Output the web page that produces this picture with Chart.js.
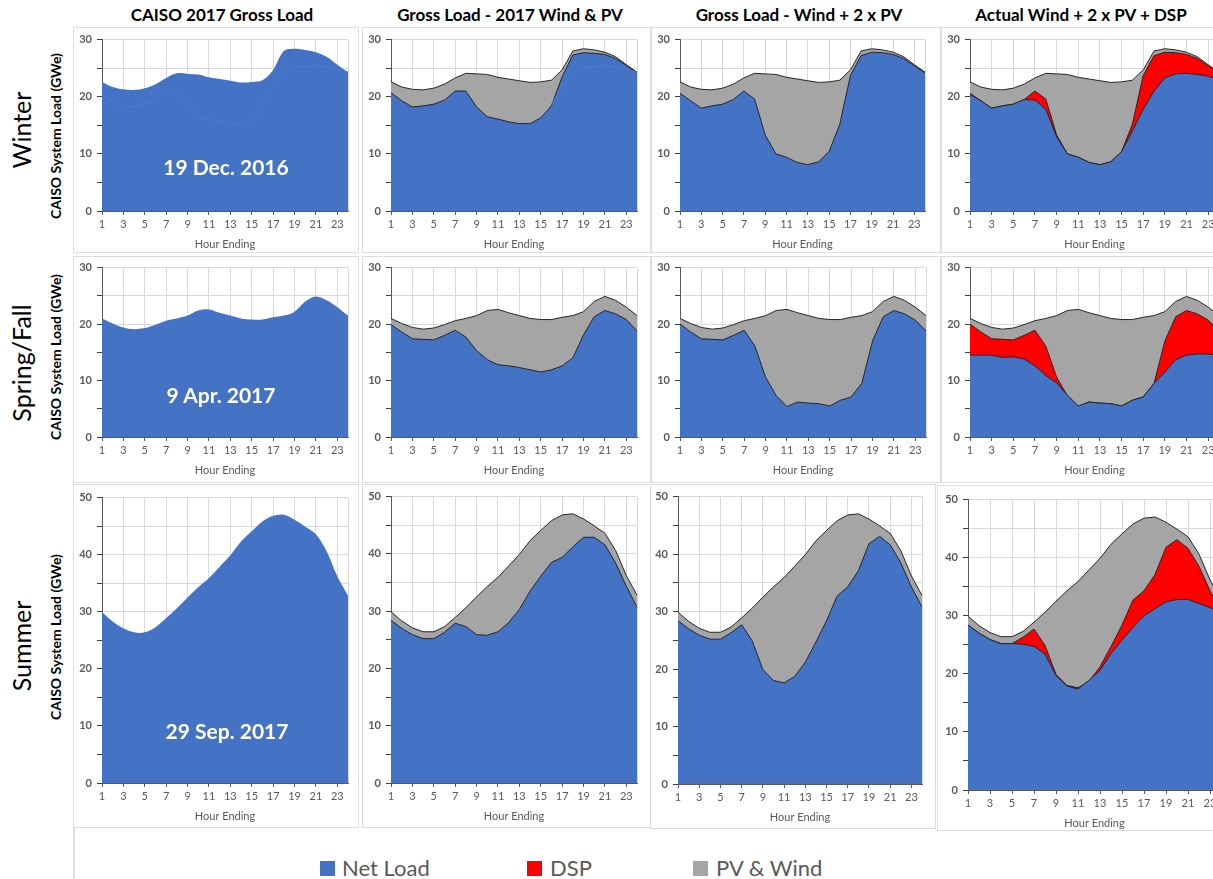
<!DOCTYPE html>
<html>
<head>
<meta charset="utf-8">
<title>CAISO load panels</title>
<script src="https://cdn.jsdelivr.net/npm/chart.js@4.4.1/dist/chart.umd.min.js"></script>
<style>
  body { margin: 0; width: 1213px; height: 879px; overflow: hidden; background: #fff; position: relative; font-family: Lato, "Open Sans", sans-serif; }
  .frame { position: absolute; border: 1px solid #dcdcdc; box-sizing: border-box; }
  canvas { position: absolute; }
  .coltitle { position: absolute; top: 4px; width: 300px; text-align: center; font-weight: bold; font-size: 17px; color: #000; transform: translateX(-50%); }
  .rot { position: absolute; transform: translate(-50%, -50%) rotate(-90deg); white-space: nowrap; color: #000; }
  .rowlabel { font-size: 25px; }
  .ytitle { font-size: 14px; font-weight: bold; }
  .date { position: absolute; transform: translate(-50%, -50%); white-space: nowrap; color: #fff; font-weight: bold; font-size: 21px; }
  .sw { position: absolute; width: 15px; height: 15px; top: 861px; }
  .lg { position: absolute; top: 854px; font-size: 22px; color: #595959; white-space: nowrap; }
</style>
</head>
<body>

<div class="frame" style="left:73px;top:27px;width:286px;height:226px"></div>
<div class="frame" style="left:362px;top:27px;width:289px;height:226px"></div>
<div class="frame" style="left:651px;top:27px;width:290px;height:226px"></div>
<div class="frame" style="left:941px;top:27px;width:280px;height:226px"></div>
<div class="frame" style="left:73px;top:256px;width:286px;height:227px"></div>
<div class="frame" style="left:362px;top:256px;width:289px;height:227px"></div>
<div class="frame" style="left:651px;top:256px;width:290px;height:227px"></div>
<div class="frame" style="left:941px;top:256px;width:280px;height:227px"></div>
<div class="frame" style="left:73px;top:484px;width:286px;height:344px"></div>
<div class="frame" style="left:362px;top:484px;width:289px;height:344px"></div>
<div class="frame" style="left:650px;top:484px;width:286px;height:345px"></div>
<div class="frame" style="left:937px;top:485px;width:284px;height:346px"></div>
<div class="frame" style="left:73px;top:827px;width:1px;height:60px"></div>

<div class="coltitle" style="left:222px">CAISO 2017 Gross Load</div>
<div class="coltitle" style="left:510px">Gross Load - 2017 Wind &amp; PV</div>
<div class="coltitle" style="left:799px">Gross Load - Wind + 2 x PV</div>
<div class="coltitle" style="left:1081px">Actual Wind + 2 x PV + DSP</div>

<div class="rot rowlabel" style="left:21px;top:130px">Winter</div>
<div class="rot rowlabel" style="left:21px;top:363px">Spring/Fall</div>
<div class="rot rowlabel" style="left:21px;top:646px">Summer</div>

<div class="rot ytitle" style="left:55px;top:136px">CAISO System Load (GWe)</div>
<div class="rot ytitle" style="left:55px;top:357px">CAISO System Load (GWe)</div>
<div class="rot ytitle" style="left:55px;top:637px">CAISO System Load (GWe)</div>

<div id="panels"></div>

<div class="date" style="left:226px;top:166px">19 Dec. 2016</div>
<div class="date" style="left:221px;top:394px">9 Apr. 2017</div>
<div class="date" style="left:227px;top:730px">29 Sep. 2017</div>

<div class="sw" style="left:320px;background:#4472C4"></div>
<div class="lg" style="left:342px">Net Load</div>
<div class="sw" style="left:527px;background:#FF0000"></div>
<div class="lg" style="left:550px">DSP</div>
<div class="sw" style="left:693px;background:#A5A5A5"></div>
<div class="lg" style="left:716px">PV &amp; Wind</div>

<script>
// hour ending labels
const hours = ['1','2','3','4','5','6','7','8','9','10','11','12','13','14','15','16','17','18','19','20','21','22','23','24'];

// Winter, 19 Dec. 2016 (GWe)
const winterGross   = [22.6, 21.7, 21.3, 21.2, 21.5, 22.2, 23.3, 24.1, 24.0, 23.9, 23.4, 23.1, 22.8, 22.5, 22.6, 22.9, 24.7, 28.0, 28.4, 28.2, 27.8, 27.0, 25.6, 24.3];
const winterGhost   = [20.3, 19.2, 18.2, 18.3, 18.8, 19.6, 20.9, 20.7, 19.0, 16.6, 16.0, 15.6, 15.3, 15.3, 16.2, 18.6, 21.8, 24.1, 25.1, 25.3, 25.4, 25.3, 24.9, 24.3];
const winterNet2017 = [20.7, 19.3, 18.2, 18.4, 18.7, 19.4, 21.0, 21.0, 18.2, 16.5, 16.1, 15.6, 15.3, 15.3, 16.3, 18.4, 23.5, 27.3, 27.7, 27.6, 27.4, 26.7, 25.5, 24.2];
const winterNet2xPV = [20.6, 19.3, 18.0, 18.4, 18.7, 19.5, 21.0, 19.6, 13.3, 10.0, 9.4, 8.5, 8.1, 8.6, 10.4, 15.2, 23.7, 27.2, 27.8, 27.7, 27.4, 26.7, 25.4, 24.2];
const winterNetDSP  = [20.4, 19.3, 18.0, 18.4, 18.7, 19.5, 19.4, 17.8, 13.0, 10.0, 9.4, 8.5, 8.1, 8.6, 10.4, 14.0, 17.8, 21.0, 23.3, 24.0, 24.1, 23.9, 23.6, 23.0];

// Spring/Fall, 9 Apr. 2017
const springGross   = [21.0, 20.1, 19.4, 19.1, 19.3, 19.9, 20.6, 21.0, 21.5, 22.4, 22.6, 22.0, 21.5, 21.0, 20.8, 20.8, 21.2, 21.5, 22.2, 24.0, 24.9, 24.2, 23.0, 21.5];
const springNet2017 = [19.9, 18.6, 17.4, 17.3, 17.2, 18.0, 18.9, 17.7, 15.3, 13.7, 12.8, 12.6, 12.3, 11.9, 11.5, 11.9, 12.6, 14.0, 18.1, 21.3, 22.4, 21.8, 20.8, 18.8];
const springNet2xPV = [20.0, 18.6, 17.4, 17.3, 17.2, 18.0, 18.9, 16.1, 10.6, 7.3, 5.4, 6.2, 6.0, 5.9, 5.5, 6.5, 7.1, 9.5, 17.0, 21.3, 22.4, 21.8, 20.7, 18.8];
const springNetDSP  = [14.5, 14.5, 14.5, 14.1, 14.2, 13.8, 12.6, 10.9, 9.6, 7.4, 5.5, 6.2, 6.0, 5.9, 5.5, 6.5, 7.1, 9.5, 11.5, 13.7, 14.5, 14.7, 14.7, 14.5];

// Summer, 29 Sep. 2017
const summerGross   = [29.9, 28.3, 27.1, 26.4, 26.4, 27.3, 28.9, 30.6, 32.5, 34.3, 35.9, 37.9, 39.9, 42.3, 44.1, 45.8, 46.8, 47.0, 46.1, 44.9, 43.6, 40.6, 36.2, 32.8];
const summerNet2017 = [28.4, 27.0, 25.9, 25.2, 25.2, 26.3, 27.9, 27.3, 25.9, 25.8, 26.4, 28.0, 30.3, 33.5, 36.1, 38.5, 39.4, 41.2, 42.9, 42.9, 41.6, 38.4, 34.4, 30.7];
const summerNet2xPV = [28.4, 27.0, 25.9, 25.2, 25.2, 26.3, 27.7, 24.9, 19.9, 18.0, 17.6, 18.7, 21.2, 24.7, 28.4, 32.7, 34.3, 37.1, 41.8, 43.1, 41.6, 38.5, 34.3, 30.8];
const summerNetDSP  = [28.4, 27.0, 25.9, 25.2, 25.2, 25.1, 24.7, 23.4, 19.7, 17.9, 17.4, 18.9, 20.6, 23.5, 25.8, 28.0, 30.0, 31.2, 32.4, 32.8, 32.8, 32.1, 31.4, 30.8];

const BLUE = '#4472C4', RED = '#FF0000', GRAY = '#A5A5A5', EDGE = '#262626';
const AX_W = 30, AX_H = 40, PAD_T = 10, PAD_R = 12;

function area(data, color, edge) {
    return {
        data: data,
        backgroundColor: color,
        borderColor: edge ? EDGE : color,
        borderWidth: edge ? 1 : 0,
        fill: 'origin',
        pointRadius: 0
    };
}

// faint leftover curve that shows through the blue fill in the winter panels
function ghost(data) {
    return { data: data, borderColor: '#4a7dda', borderWidth: 1, fill: false, pointRadius: 0 };
}

// plot area boxes [left, top, right, bottom]
const panels = [
    { box: [102, 38, 348, 211], yMax: 30, smooth: true,  sets: [ghost(winterGhost), area(winterGross, BLUE, false)] },
    { box: [391, 38, 637, 211], yMax: 30, sets: [ghost(winterGhost.map((v, i) => i >= 15 ? v : null)), area(winterNet2017, BLUE, true), area(winterGross, GRAY, true)] },
    { box: [680, 38, 925, 211], yMax: 30, sets: [area(winterNet2xPV, BLUE, true), area(winterGross, GRAY, true)] },
    { box: [970, 38, 1219, 211], yMax: 30, sets: [area(winterNetDSP, BLUE, true), area(winterNet2xPV, RED, true), area(winterGross, GRAY, true)] },

    { box: [102, 266, 348, 437], yMax: 30, smooth: true, sets: [area(springGross, BLUE, false)] },
    { box: [391, 266, 637, 437], yMax: 30, sets: [area(springNet2017, BLUE, true), area(springGross, GRAY, true)] },
    { box: [680, 266, 926, 437], yMax: 30, sets: [area(springNet2xPV, BLUE, true), area(springGross, GRAY, true)] },
    { box: [970, 266, 1219, 437], yMax: 30, sets: [area(springNetDSP, BLUE, true), area(springNet2xPV, RED, true), area(springGross, GRAY, true)] },

    { box: [102, 496, 348, 783], yMax: 50, smooth: true, sets: [area(summerGross, BLUE, false)] },
    { box: [391, 495, 637, 783], yMax: 50, sets: [area(summerNet2017, BLUE, true), area(summerGross, GRAY, true)] },
    { box: [678, 495, 922, 784], yMax: 50, sets: [area(summerNet2xPV, BLUE, true), area(summerGross, GRAY, true)] },
    { box: [968, 498, 1221, 790], yMax: 50, sets: [area(summerNetDSP, BLUE, true), area(summerNet2xPV, RED, true), area(summerGross, GRAY, true)] }
];

const holder = document.getElementById('panels');
const font = 'Lato, "Open Sans", sans-serif';

panels.forEach(p => {
    const [l, t, r, b] = p.box;
    const cv = document.createElement('canvas');
    cv.width = (r - l) + AX_W + PAD_R;
    cv.height = (b - t) + PAD_T + AX_H;
    cv.style.left = (l - AX_W) + 'px';
    cv.style.top = (t - PAD_T) + 'px';
    holder.appendChild(cv);

    new Chart(cv.getContext('2d'), {
        type: 'line',
        data: { labels: hours, datasets: p.sets },
        options: {
            responsive: false,
            animation: false,
            events: [],
            layout: { padding: { top: PAD_T, right: PAD_R, left: 0, bottom: 0 } },
            elements: { line: { tension: p.smooth ? 0.35 : 0 } },
            plugins: { legend: { display: false }, tooltip: { enabled: false } },
            scales: {
                x: {
                    offset: false,
                    grid: {
                        color: c => (c.index % 2 === 0 || c.index === 23) ? '#d9d9d9' : 'rgba(0,0,0,0)',
                        tickColor: c => c.index % 2 === 0 ? '#595959' : 'rgba(0,0,0,0)',
                        tickLength: 4
                    },
                    border: { color: '#595959' },
                    ticks: {
                        autoSkip: false, maxRotation: 0, padding: 3,
                        color: '#595959', font: { family: font, size: 11 },
                        callback: (v, i) => i % 2 === 0 ? hours[i] : ''
                    },
                    title: { display: true, text: 'Hour Ending', color: '#595959', font: { family: font, size: 11 }, padding: { top: 1, bottom: 0 } },
                    afterFit: s => { s.height = AX_H; }
                },
                y: {
                    min: 0, max: p.yMax,
                    grid: { color: '#d9d9d9', tickColor: '#404040', tickLength: 5 },
                    border: { color: '#595959' },
                    ticks: {
                        stepSize: 5, padding: 5,
                        color: '#595959', font: { family: font, size: 11, weight: 'bold' },
                        callback: v => v % 10 === 0 ? v : ''
                    },
                    afterFit: s => { s.width = AX_W; }
                }
            }
        }
    });
});
</script>
</body>
</html>
